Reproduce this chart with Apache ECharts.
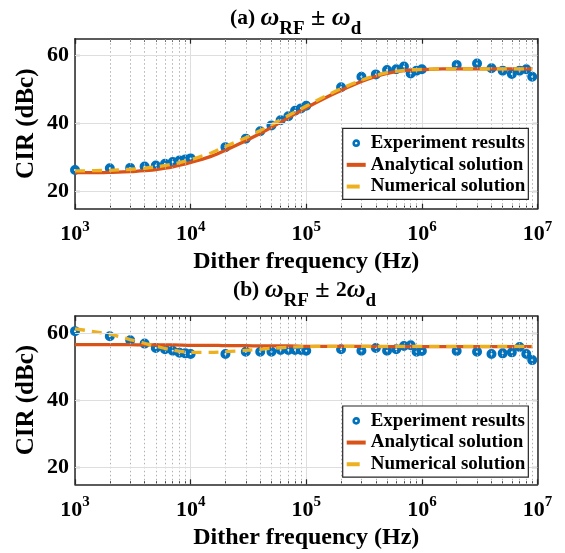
<!DOCTYPE html>
<html>
<head>
<meta charset="utf-8">
<script src="https://cdn.jsdelivr.net/npm/echarts@6/dist/echarts.min.js"></script>
<style>
html,body{margin:0;padding:0;background:#fff;}
#chart{width:565px;height:553px;}
</style>
</head>
<body>
<div id="chart"></div>
<script>
// ---- data ----
const freqs = [1e3,2e3,3e3,4e3,5e3,6e3,7e3,8e3,9e3,
               1e4,2e4,3e4,4e4,5e4,6e4,7e4,8e4,9e4,
               1e5,2e5,3e5,4e5,5e5,6e5,7e5,8e5,9e5,
               1e6,2e6,3e6,4e6,5e6,6e6,7e6,8e6,9e6];
const expA = [26.4,26.9,27.0,27.4,27.7,28.2,28.7,29.2,29.5,
              29.8,33.1,35.6,37.8,39.5,41.0,42.2,43.8,44.5,
              45.3,50.7,53.8,54.5,55.8,56.0,56.8,54.8,55.6,
              56.0,57.3,57.7,56.3,55.6,54.6,55.6,56.0,53.8];
const expB = [60.5,59.0,57.8,56.8,55.5,55.1,54.7,54.1,53.9,
              53.7,53.7,54.4,54.4,54.4,54.9,54.9,54.9,54.9,
              54.7,55.1,54.7,55.5,54.7,55.1,56.1,56.3,54.4,
              54.6,54.6,54.4,53.7,53.9,54.2,55.8,53.7,51.9];
const curveF = [1e3,1.5e3,2e3,3e3,4e3,5e3,7e3,1e4,1.5e4,2e4,3e4,4e4,5e4,7e4,
                1e5,1.5e5,2e5,3e5,4e5,5e5,7e5,1e6,1.5e6,2e6,3e6,5e6,9e6];
const anaA = [25.6,25.6,25.7,25.9,26.2,26.5,27.3,28.6,30.4,32.2,35.0,37.1,38.9,41.8,
              44.7,47.8,49.8,52.4,53.9,54.8,55.6,55.9,56.1,56.1,56.1,56.1,56.1];
const numA = [26.1,26.2,26.3,26.6,26.9,27.3,28.1,29.4,31.4,33.3,35.9,38.0,39.7,42.4,
              45.2,48.3,50.3,52.8,54.2,55.0,55.7,56.0,56.1,56.1,56.1,56.1,56.1];
const anaB = [56.5,56.5,56.5,56.5,56.4,56.4,56.4,56.3,56.3,56.2,56.2,56.1,56.1,56.1,
              56.0,56.0,56.0,56.0,55.9,55.9,55.9,55.9,55.9,55.9,55.9,55.9,55.9];
const numB = [61.2,60.3,59.6,58.0,56.9,56.0,54.9,54.2,54.2,54.4,54.8,55.1,55.4,55.7,
              55.9,56.0,56.0,56.0,56.0,56.0,56.0,56.0,56.0,56.0,56.0,56.0,56.0];
const minorX = [2e3,3e3,4e3,5e3,6e3,7e3,8e3,9e3,
                2e4,3e4,4e4,5e4,6e4,7e4,8e4,9e4,
                2e5,3e5,4e5,5e5,6e5,7e5,8e5,9e5,
                2e6,3e6,4e6,5e6,6e6,7e6,8e6,9e6];
const yTicks = [20,40,60];
const names = ['Experiment results','Analytical solution','Numerical solution'];

// ---- styles ----
const FONT = "'Liberation Serif','Times New Roman',serif";
const AX = '#262626';
const BLUE = '#0072BD', ORANGE = '#D95319', YELLOW = '#EDB120';

const grids = [
  {left:75, top:38.7, width:462.5, height:170},
  {left:75, top:316, width:462.5, height:168.3}
];

function xAxesFor(gi){
  const common = {type:'log', logBase:10, min:1e3, max:1e7, gridIndex:gi};
  const line = {show:true, onZero:false, lineStyle:{color:AX, width:1.5}};
  return [
    Object.assign({}, common, {
      position:'bottom', axisLine:line,
      axisTick:{show:true, inside:true, length:5, lineStyle:{color:AX, width:1.2}},
      axisLabel:{show:true, margin:10.5, color:'#000',
        formatter: v => '{b|10}{s|' + Math.round(Math.log10(v)) + '}',
        rich:{ b:{fontFamily:FONT, fontWeight:'bold', fontSize:22, color:'#000'},
               s:{fontFamily:FONT, fontWeight:'bold', fontSize:15, color:'#000', padding:[0,0,16,0]} } },
      splitLine:{show:true, lineStyle:{color:'#dedede', width:1}},
      name: 'Dither frequency (Hz)', nameLocation:'middle', nameGap:41,
      nameTextStyle:{fontFamily:FONT, fontWeight:'bold', fontSize:24, color:'#000'}
    }),
    Object.assign({}, common, {
      position:'top', axisLine:line,
      axisTick:{show:true, inside:true, length:5, lineStyle:{color:AX, width:1.2}},
      axisLabel:{show:false}, splitLine:{show:false}
    }),
    Object.assign({}, common, {
      position:'bottom', axisLine:{show:false},
      axisTick:{show:true, inside:true, length:3, customValues:minorX, lineStyle:{color:AX, width:1}},
      axisLabel:{show:false}, splitLine:{show:false}
    }),
    Object.assign({}, common, {
      position:'top', axisLine:{show:false},
      axisTick:{show:true, inside:true, length:3, customValues:minorX, lineStyle:{color:AX, width:1}},
      axisLabel:{show:false}, splitLine:{show:false}
    })
  ];
}
function yAxesFor(gi){
  const common = {type:'value', min:15, max:65, gridIndex:gi};
  const line = {show:true, onZero:false, lineStyle:{color:AX, width:1.5}};
  return [
    Object.assign({}, common, {
      position:'left', axisLine:line,
      axisTick:{show:true, inside:true, length:5, customValues:yTicks, lineStyle:{color:AX, width:1.2}},
      axisLabel:{show:true, margin:6, customValues:yTicks, fontFamily:FONT, fontWeight:'bold', fontSize:22, color:'#000'},
      splitLine:{show:false},
      name:'CIR (dBc)', nameLocation:'middle', nameGap:35.8, nameRotate:90, nameMoveOverlap:false,
      nameTextStyle:{fontFamily:FONT, fontWeight:'bold', fontSize:25, color:'#000'}
    }),
    Object.assign({}, common, {
      position:'right', axisLine:line,
      axisTick:{show:true, inside:true, length:5, customValues:yTicks, lineStyle:{color:AX, width:1.2}},
      axisLabel:{show:false}, splitLine:{show:false}
    })
  ];
}

function seriesFor(gi, expVals, anaVals, numVals){
  const xi = gi*4, yi = gi*2;
  const gridLines = minorX.map(v => ({xAxis:v, lineStyle:{type:[1.5,2.5], color:'#b0b0b0', width:1}}))
    .concat(yTicks.map(v => ({yAxis:v, lineStyle:{type:'solid', color:'#dedede', width:1}})));
  return [
    {type:'line', name:'_grid', data:[], xAxisIndex:xi, yAxisIndex:yi, z:1, silent:true,
     markLine:{silent:true, symbol:['none','none'], label:{show:false}, animation:false, data:gridLines}},
    {type:'scatter', name:names[0], xAxisIndex:xi, yAxisIndex:yi, z:2,
     data: freqs.map((f,i) => [f, expVals[i]]),
     symbol:'circle', symbolSize:6,
     itemStyle:{color:'#ffffff', borderColor:BLUE, borderWidth:4, opacity:1}},
    {type:'line', name:names[1], xAxisIndex:xi, yAxisIndex:yi, z:3,
     data: curveF.map((f,i) => [f, anaVals[i]]), symbol:'none', smooth:0.25,
     lineStyle:{color:ORANGE, width:3.3}, itemStyle:{color:ORANGE}},
    {type:'line', name:names[2], xAxisIndex:xi, yAxisIndex:yi, z:4,
     data: curveF.map((f,i) => [f, numVals[i]]), symbol:'none', smooth:0.25,
     lineStyle:{color:YELLOW, width:3.3, type:[10,7]}, itemStyle:{color:YELLOW}}
  ];
}

function legendFor(top){
  return {
    orient:'vertical', left:342.7, top:top, itemWidth:19, itemHeight:5, itemGap:0,
    padding:[4,3,2,2], borderColor:AX, borderWidth:1.2, backgroundColor:'#fff',
    selectedMode:false, z:10,
    textStyle:{fontFamily:FONT, fontWeight:'bold', fontSize:19, color:'#000', lineHeight:21.7},
    data:[
      {name:names[0], icon:'circle', itemStyle:{color:'#fff', borderColor:BLUE, borderWidth:2.6}},
      {name:names[1], itemStyle:{opacity:0}, lineStyle:{width:4, type:'solid', color:ORANGE}},
      {name:names[2], itemStyle:{opacity:0}, lineStyle:{width:4, type:[13,30], color:YELLOW}}
    ]
  };
}

function titleFor(left, top, label, mult){
  return {
    left:left, top:top, padding:0,
    text: '{b|' + label + ' }{w|ω}{s|RF}{p| ± }' + (mult ? '{b|' + mult + '}' : '') + '{w|ω}{s|d}',
    textStyle:{
      rich:{
        b:{fontFamily:FONT, fontWeight:'bold', fontSize:21.5, color:'#000'},
        w:{fontFamily:FONT, fontStyle:'italic', fontSize:26, color:'#000'},
        p:{fontFamily:FONT, fontSize:26, color:'#000'},
        s:{fontFamily:FONT, fontWeight:'bold', fontSize:19, color:'#000', padding:[22,0,0,0]}
      }
    }
  };
}

const chart = echarts.init(document.getElementById('chart'), null, {renderer:'canvas'});
chart.setOption({
  animation:false,
  backgroundColor:'#fff',
  title:[titleFor(230, -2.3, '(a)', ''), titleFor(233, 269.5, '(b)', '2')],
  legend:[legendFor(128.3), legendFor(406)],
  grid: grids.map(g => Object.assign({outerBoundsMode:'none', containLabel:false}, g)),
  xAxis: xAxesFor(0).concat(xAxesFor(1)),
  yAxis: yAxesFor(0).concat(yAxesFor(1)),
  series: seriesFor(0, expA, anaA, numA).concat(seriesFor(1, expB, anaB, numB))
});
</script>
</body>
</html>
